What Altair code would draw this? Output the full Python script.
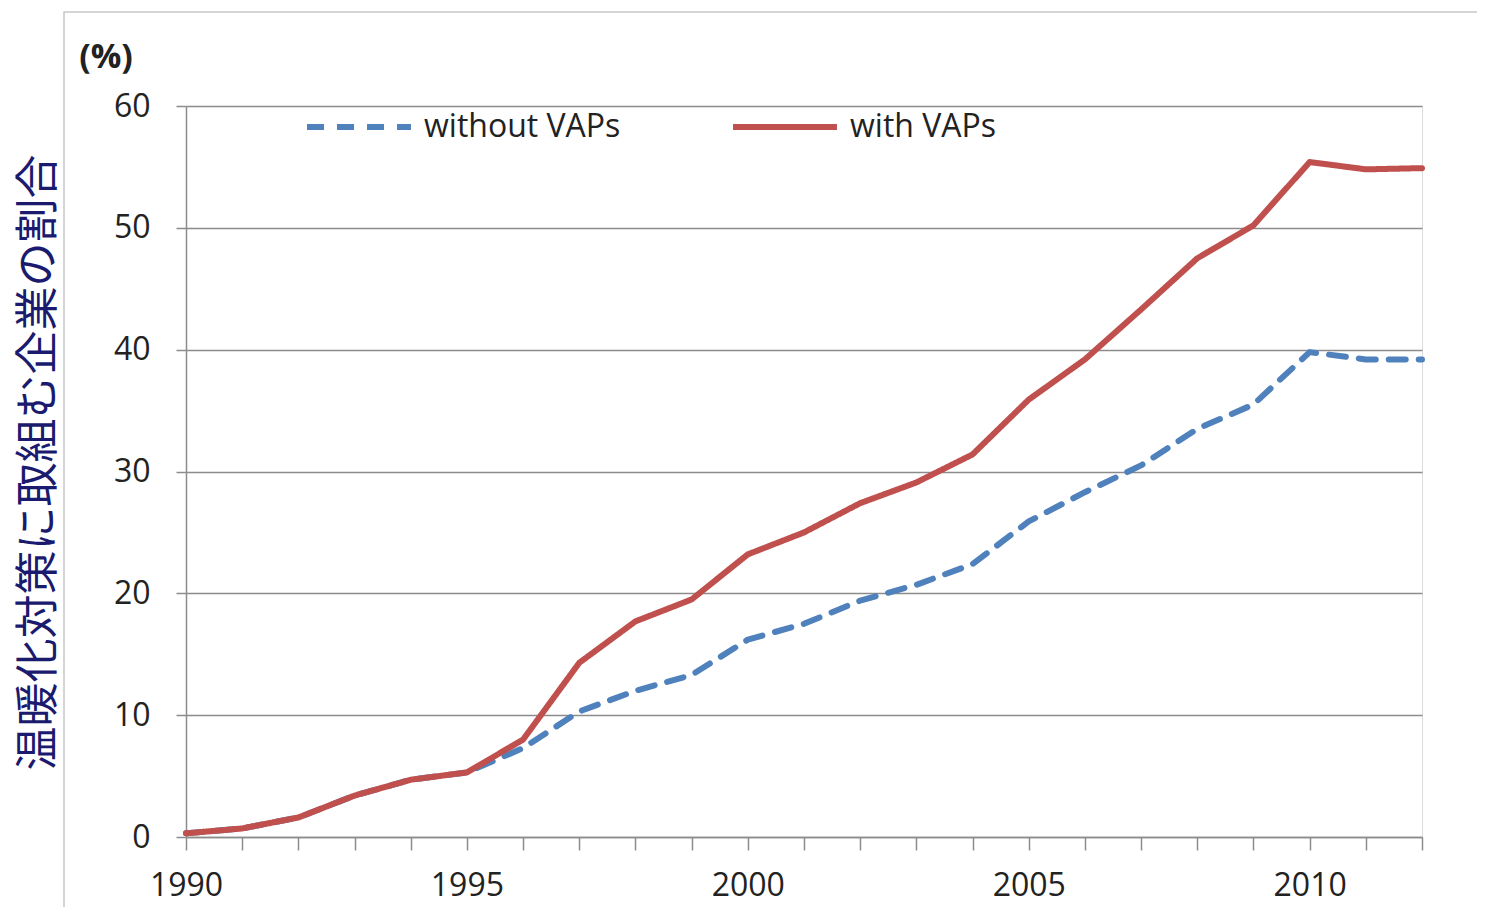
import altair as alt
import pandas as pd

years = list(range(1990, 2013))
with_vaps = [0.3, 0.7, 1.6, 3.4, 4.7, 5.3, 8.0, 14.3, 17.7, 19.5, 23.2, 25.0,
             27.4, 29.1, 31.4, 35.9, 39.2, 43.3, 47.5, 50.2, 55.4, 54.8, 54.9]
without_vaps = [0.3, 0.7, 1.6, 3.4, 4.7, 5.3, 7.3, 10.3, 12.0, 13.3, 16.2, 17.5,
                19.4, 20.7, 22.4, 25.9, 28.3, 30.5, 33.5, 35.5, 39.8, 39.2, 39.2]
series_names = ["without VAPs", "with VAPs"]
series_colors = ["#4F81BD", "#C0504D"]
y_title = "温暖化対策に取組む企業の割合"
unit_label = ["(%)"]

rows = []
for y, a, b in zip(years, without_vaps, with_vaps):
    rows.append({"year": y, "series": "without VAPs", "value": a})
    rows.append({"year": y, "series": "with VAPs", "value": b})
df = pd.DataFrame(rows)

FONT = "Open Sans"
W, H = 1236, 731

lines = alt.Chart(df).mark_line(strokeWidth=6, strokeCap="round", strokeJoin="round").encode(
    x=alt.X("year:Q", scale=alt.Scale(domain=[1990, 2012], nice=False, zero=False),
            axis=alt.Axis(values=years, labelExpr="datum.value % 5 == 0 ? datum.value : ''",
                          grid=False, tickSize=13, tickColor="#8c8c8c", tickWidth=1.5,
                          domainColor="#8c8c8c", domainWidth=1.5, labelFontSize=32,
                          labelFont=FONT, labelColor="#222222", labelPadding=20,
                          labelFlush=False, title=None)),
    y=alt.Y("value:Q", scale=alt.Scale(domain=[0, 60], nice=False),
            axis=alt.Axis(values=[0, 10, 20, 30, 40, 50, 60], grid=True, gridColor="#8c8c8c",
                          gridWidth=1.5, tickSize=10, tickColor="#8c8c8c", tickWidth=1.5,
                          domainColor="#8c8c8c", domainWidth=1.5, labelFontSize=32,
                          labelFont=FONT, labelColor="#222222", labelPadding=26,
                          title=y_title, titleFont="Noto Sans CJK JP", titleFontSize=44,
                          titleFontWeight="normal", titleColor="#1a1a6e", titleAngle=-90,
                          titleX=-147, titleY=356, titleAlign="center", titleBaseline="middle")),
    color=alt.Color("series:N", scale=alt.Scale(domain=series_names, range=series_colors),
                    legend=alt.Legend(title=None, orient="none", legendX=118, legendY=-34,
                                      direction="horizontal", symbolType="stroke",
                                      symbolSize=10800, symbolStrokeWidth=6,
                                      labelFont=FONT, labelFontSize=32, labelColor="#222222",
                                      labelOffset=10, columnPadding=100, labelLimit=400)),
    strokeDash=alt.StrokeDash("series:N",
                              scale=alt.Scale(domain=series_names, range=[[17, 13], [1, 0]]),
                              legend=None),
    detail="series:N",
)

unit = alt.Chart(pd.DataFrame({"t": unit_label})).mark_text(
    font=FONT, fontSize=34, fontWeight="bold", color="#222222", align="center", baseline="middle"
).encode(text="t:N", x=alt.value(-80), y=alt.value(-48))

border = alt.Chart(pd.DataFrame({"t": [0]})).mark_rect(
    fill=None, stroke="#c8c8c8", strokeWidth=1.5
).encode(x=alt.value(-122), x2=alt.value(1400), y=alt.value(-94), y2=alt.value(900))

chart = alt.layer(border, lines, unit).properties(
    width=W, height=H,
    autosize=alt.AutoSizeParams(type="none"),
    padding={"left": 178, "top": 98, "right": 55, "bottom": 70},
).configure_view(stroke=None).configure(background="white")

chart.save("out.html", embed_options={"renderer": "svg", "actions": False})
